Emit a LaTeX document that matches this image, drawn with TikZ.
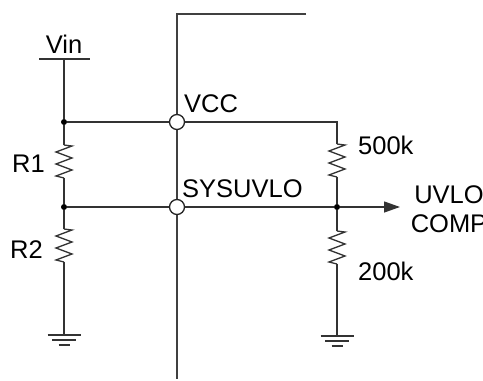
\documentclass[tikz,border=0pt]{standalone}
\usepackage{fontspec}
\setmainfont{Liberation Sans}
\usetikzlibrary{arrows.meta}
\begin{document}
\begin{tikzpicture}[x=1pt,y=-1pt,
  wire/.style={draw=black!80, line width=1.3pt},
  icline/.style={draw=black!75, line width=1.6pt},
  lbl/.style={font=\fontsize{25.5}{30}\selectfont, inner sep=0pt, text=black},
  jdot/.style={circle, fill=black, inner sep=0pt, minimum size=6pt},
  pin/.style={circle, draw=black!85, fill=white, line width=1.3pt, inner sep=0pt, minimum size=15pt},
  pics/res/.style={code={\draw[wire, line join=miter] (0,0) -- ++(8,1) -- ++(-16,6) -- ++(16,6) -- ++(-16,6) -- ++(16,6) -- ++(-16,6) -- ++(8,2);}},
  pics/gnd/.style={code={\draw[wire] (-16.5,0) -- (16.5,0) (-12,5) -- (12,5) (-5.5,10) -- (5.5,10);}}
]
\useasboundingbox (0,0) rectangle (483,381);
% IC boundary
\coordinate (icTR) at (306,14);
\coordinate (icTL) at (177,14);
\coordinate (icB) at (177,379);
\draw[icline] (icTR) -- (icTL) -- (icB);
% left network
\coordinate (vinL) at (39,59);
\coordinate (vinR) at (90,59);
\coordinate (vin) at (64,59);
\node[jdot] (d1) at (64,122) {};
\node[jdot] (d2) at (64,207) {};
\node[pin] (pVCC) at (177,122) {};
\node[pin] (pSYS) at (177,207) {};
\coordinate (r1t) at (64,145);
\coordinate (r1b) at (64,178);
\coordinate (r2t) at (64,229);
\coordinate (r2b) at (64,262);
\coordinate (g1) at (64,335);
\draw[wire] (vinL) -- (vinR);
\draw[wire] (vin) -- (d1) -- (r1t);
\pic at (r1t) {res};
\draw[wire] (r1b) -- (d2) -- (r2t);
\pic at (r2t) {res};
\draw[wire] (r2b) -- (g1);
\pic at (g1) {gnd};
\draw[wire] (d1) -- (pVCC);
\draw[wire] (d2) -- (pSYS);
% right network
\coordinate (c1) at (337,122);
\coordinate (r3t) at (337,144);
\coordinate (r3b) at (337,177);
\node[jdot] (d3) at (337,207) {};
\coordinate (r4t) at (337,231);
\coordinate (r4b) at (337,264);
\coordinate (g2) at (337,336);
\coordinate (aend) at (400,207);
\draw[wire] (pVCC) -- (c1) -- (r3t);
\pic at (r3t) {res};
\draw[wire] (r3b) -- (d3) -- (r4t);
\pic at (r4t) {res};
\draw[wire] (r4b) -- (g2);
\pic at (g2) {gnd};
\draw[wire] (pSYS) -- (d3);
\draw[wire, -{Triangle[length=16pt,width=11pt]}] (d3) -- (aend);
% labels
\node[lbl, anchor=base] (tVin) at (64,53) {Vin};
\node[lbl, anchor=base west] (tVCC) at (184,112) {VCC};
\node[lbl, anchor=base west] (tSYS) at (182,197) {SYSUVLO};
\node[lbl, anchor=base east] (tR1) at (45,172) {R1};
\node[lbl, anchor=base east] (tR2) at (43,258) {R2};
\node[lbl, anchor=base west] (t500) at (358,154) {500k};
\node[lbl, anchor=base west] (t200) at (358,280) {200k};
\node[lbl, anchor=base] (tUVLO) at (449,203) {UVLO};
\node[lbl, anchor=base] (tCOMP) at (449,232) {COMP};
\end{tikzpicture}
\end{document}
